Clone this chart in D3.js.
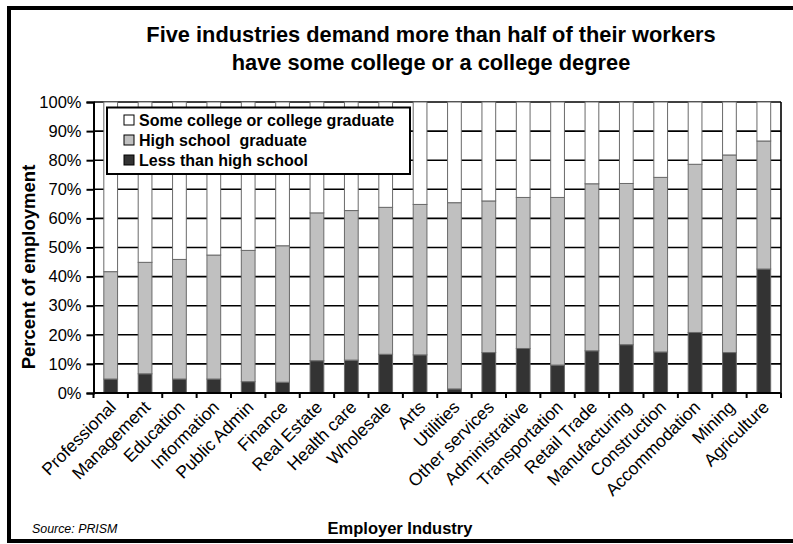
<!DOCTYPE html>
<html>
<head>
<meta charset="utf-8">
<script src="https://cdn.jsdelivr.net/npm/d3@7"></script>
<style>
  html, body { margin: 0; padding: 0; background: #fff; }
  svg { display: block; font-family: "Liberation Sans", Arial, sans-serif; }
  svg text { font-family: "Liberation Sans", Arial, sans-serif; white-space: pre; }
</style>
</head>
<body>
<svg id="chart" width="793" height="544"></svg>
<script>
const categories = ["Professional", "Management", "Education", "Information", "Public Admin", "Finance",
  "Real Estate", "Health care", "Wholesale", "Arts", "Utilities", "Other services", "Administrative",
  "Transportation", "Retail Trade", "Manufacturing", "Construction", "Accommodation", "Mining", "Agriculture"];
const lessThanHighSchool = [4.8, 6.6, 4.8, 4.8, 3.9, 3.7, 11.1, 11.3, 13.3, 13.1, 1.4, 13.9, 15.3, 9.6, 14.5, 16.6, 14.1, 20.8, 13.9, 42.6];
const highSchoolGraduate = [36.9, 38.3, 41.1, 42.6, 45.1, 46.9, 50.8, 51.4, 50.5, 51.7, 64.0, 52.1, 51.9, 57.6, 57.4, 55.4, 60.0, 57.8, 67.9, 44.0];
const someCollege = [58.3, 55.1, 54.1, 52.6, 51.0, 49.4, 38.1, 37.3, 36.2, 35.2, 34.6, 34.0, 32.8, 32.8, 28.1, 28.0, 25.9, 21.4, 18.2, 13.4];
const seriesNames = ["Less than high school", "High school  graduate", "Some college or college graduate"];
const seriesColors = ["#333333", "#c0c0c0", "#ffffff"];
const yTicks = [0, 10, 20, 30, 40, 50, 60, 70, 80, 90, 100];
const titleLines = ["Five industries demand more than half of their workers", "have some college or a college degree"];

const svg = d3.select("#chart");
const plot = { left: 93.5, right: 781, top: 102, bottom: 393 };

const rows = categories.map((c, i) => ({ cat: c, s0: lessThanHighSchool[i], s1: highSchoolGraduate[i], s2: someCollege[i] }));
const stack = d3.stack().keys(["s0", "s1", "s2"]);
const stacked = stack(rows);

const x = d3.scaleBand().domain(categories).range([plot.left, plot.right]).paddingInner(0.6).paddingOuter(0.3);
const y = d3.scaleLinear().domain([0, 100]).range([plot.bottom, plot.top]);

// outer frame
svg.append("rect").attr("x", 9).attr("y", 8).attr("width", 800).attr("height", 533)
  .attr("fill", "none").attr("stroke", "#000").attr("stroke-width", 4);

// title
svg.append("text").attr("x", 431).attr("y", 42).attr("text-anchor", "middle")
  .attr("font-size", 21.8).attr("font-weight", "bold").text(titleLines[0]);
svg.append("text").attr("x", 431).attr("y", 70).attr("text-anchor", "middle")
  .attr("font-size", 21.8).attr("font-weight", "bold").text(titleLines[1]);

// gridlines
svg.append("g").selectAll("line").data(yTicks.filter(d => d > 0)).join("line")
  .attr("x1", plot.left).attr("x2", plot.right)
  .attr("y1", d => y(d)).attr("y2", d => y(d))
  .attr("stroke", "#000").attr("stroke-width", 1.6);

// right border
svg.append("line").attr("x1", plot.right).attr("x2", plot.right).attr("y1", plot.top).attr("y2", plot.bottom)
  .attr("stroke", "#000").attr("stroke-width", 1.6);

// bars
svg.append("g").selectAll("g").data(stacked).join("g")
  .attr("fill", (d, i) => seriesColors[i])
  .selectAll("rect").data(d => d).join("rect")
  .attr("x", d => x(d.data.cat))
  .attr("width", x.bandwidth())
  .attr("y", d => y(d[1]))
  .attr("height", d => y(d[0]) - y(d[1]))
  .attr("stroke", "#6a6a6a").attr("stroke-width", 1);

// y axis
const yAxis = d3.axisLeft(y).tickValues(yTicks).tickFormat(d => d + "%").tickSize(7).tickPadding(5);
const gy = svg.append("g").attr("transform", `translate(${plot.left},0)`).call(yAxis);
gy.select(".domain").attr("stroke-width", 2);
gy.selectAll(".tick line").attr("stroke-width", 2);
gy.selectAll("text").attr("font-size", 16.5).attr("font-family", "'Liberation Sans', Arial, sans-serif").attr("fill", "#000");

// x axis baseline
svg.append("line").attr("x1", plot.left).attr("x2", plot.right).attr("y1", plot.bottom).attr("y2", plot.bottom)
  .attr("stroke", "#000").attr("stroke-width", 2);
// x ticks at category boundaries
const step = x.step();
const boundaries = categories.map(c => x(c) + x.bandwidth() / 2 - step / 2).concat([x(categories[categories.length - 1]) + x.bandwidth() / 2 + step / 2]);
svg.append("g").selectAll("line").data(boundaries).join("line")
  .attr("x1", d => d).attr("x2", d => d).attr("y1", plot.bottom).attr("y2", plot.bottom + 5)
  .attr("stroke", "#000").attr("stroke-width", 2);
// x labels
svg.append("g").selectAll("text").data(categories).join("text")
  .attr("transform", d => `translate(${x(d) + x.bandwidth() / 2 + 2},${plot.bottom + 11}) rotate(-45)`)
  .attr("text-anchor", "end").attr("dy", "0.35em")
  .attr("font-size", 17.5).text(d => d);

// axis titles
svg.append("text").attr("transform", `translate(35,267) rotate(-90)`).attr("text-anchor", "middle")
  .attr("font-size", 18.5).attr("font-weight", "bold").text("Percent of employment");
svg.append("text").attr("x", 400).attr("y", 534).attr("text-anchor", "middle")
  .attr("font-size", 16.5).attr("font-weight", "bold").text("Employer Industry");
svg.append("text").attr("x", 32).attr("y", 533).attr("font-size", 12.4).attr("font-style", "italic").text("Source: PRISM");

// legend
const legend = svg.append("g");
legend.append("rect").attr("x", 107).attr("y", 107.5).attr("width", 303).attr("height", 66.5)
  .attr("fill", "#fff").attr("stroke", "#000").attr("stroke-width", 2);
const legendOrder = [2, 1, 0];
const lg = legend.selectAll("g.item").data(legendOrder).join("g").attr("class", "item")
  .attr("transform", (d, i) => `translate(124,${120 + i * 20})`);
lg.append("rect").attr("x", 0).attr("y", -5).attr("width", 10).attr("height", 10)
  .attr("fill", d => seriesColors[d]).attr("stroke", "#000").attr("stroke-width", 1);
lg.append("text").attr("x", 15).attr("dy", "0.36em").attr("font-size", 16).attr("font-weight", "bold")
  .text(d => seriesNames[d]);
</script>
</body>
</html>
